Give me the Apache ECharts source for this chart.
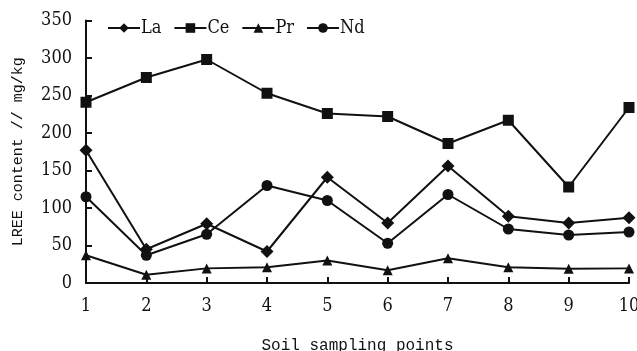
<!DOCTYPE html>
<html><head><meta charset="utf-8">
<script src="https://cdn.jsdelivr.net/npm/echarts@6/dist/echarts.min.js"></script>
<style>html,body{margin:0;padding:0;background:#fff}#c{width:637px;height:351px}</style>
</head><body><div id="c"></div>
<script>
const categories = ['1','2','3','4','5','6','7','8','9','10'];
const La = [177, 45, 79, 42, 141, 80, 156, 89, 80, 87];
const Ce = [241, 274, 298, 253, 226, 222, 186, 217, 128, 234];
const Pr = [37, 11, 19.5, 21, 30, 17, 33, 21, 19, 19.5];
const Nd = [115, 37, 65, 130, 110, 53, 118, 72, 64, 68];
const seriesNames = ['La','Ce','Pr','Nd'];
const symbols = ['diamond','rect','triangle','circle'];
const yTicks = [0,50,100,150,200,250,300,350];

const numFont = '"DejaVu Serif Condensed","Liberation Serif",serif';
const monoFont = '"Liberation Mono","DejaVu Sans Mono",monospace';
const ink = '#111';
const data = [La, Ce, Pr, Nd];

const chart = echarts.init(document.getElementById('c'), null, {renderer:'canvas'});
chart.setOption({
  animation:false,
  backgroundColor:'#fff',
  grid:{left:86,right:8,top:20.5,bottom:68,containLabel:false,outerBoundsMode:'none'},
  legend:{
    left:102, top:14, itemWidth:32, itemHeight:12, itemGap:12,
    data:seriesNames,
    textStyle:{fontFamily:numFont, fontSize:18, color:ink, padding:[0,0,0,-4]}
  },
  xAxis:{
    type:'category', data:categories, boundaryGap:false,
    name:'Soil sampling points', nameLocation:'middle', nameGap:55,
    nameTextStyle:{fontFamily:monoFont, fontSize:16, color:ink},
    axisLine:{lineStyle:{color:ink,width:2}},
    axisTick:{inside:true,length:6,lineStyle:{color:ink,width:2}},
    axisLabel:{fontFamily:numFont,fontSize:18,color:ink,margin:14}
  },
  yAxis:{
    type:'value', min:0, max:350, interval:50,
    name:'LREE content // mg/kg', nameLocation:'middle', nameGap:60, nameRotate:90,
    nameTextStyle:{fontFamily:monoFont, fontSize:15, color:ink},
    axisLine:{show:true,lineStyle:{color:ink,width:2}},
    axisTick:{show:true,inside:true,length:6,lineStyle:{color:ink,width:2}},
    splitLine:{show:false},
    axisLabel:{fontFamily:numFont,fontSize:18,color:ink,margin:14,
      formatter:v=>yTicks.includes(v)?String(v):''}
  },
  series: seriesNames.map((n,i)=>({
    name:n, type:'line', data:data[i], symbol:symbols[i],
    symbolSize: symbols[i]==='diamond'?13:(symbols[i]==='triangle'?10:11),
    showAllSymbol:true,
    lineStyle:{color:ink,width:2}, itemStyle:{color:ink}
  }))
});
</script></body></html>
